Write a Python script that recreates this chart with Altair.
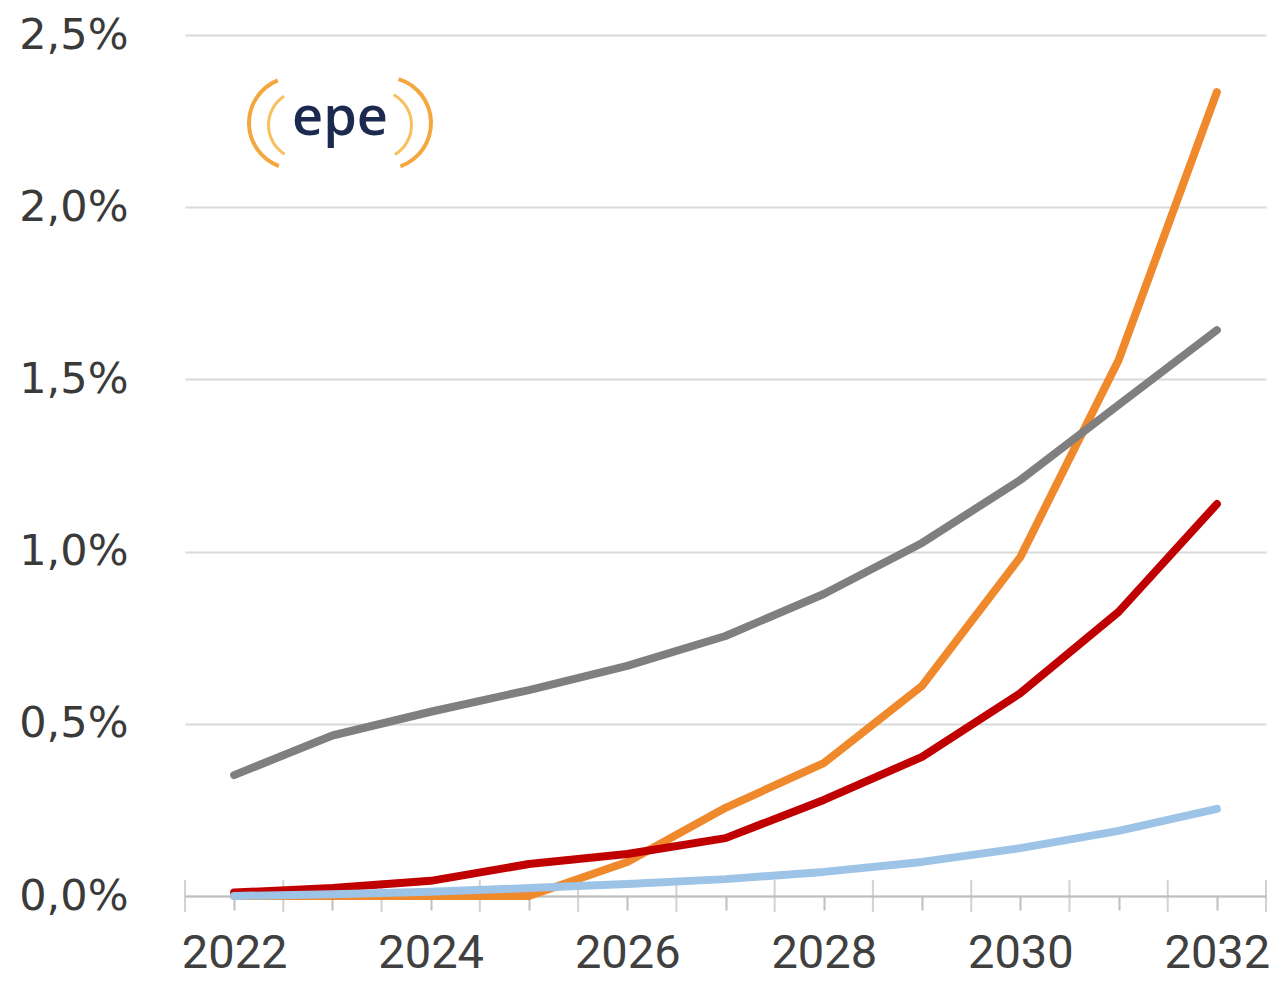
import altair as alt
import pandas as pd

years = [2022, 2023, 2024, 2025, 2026, 2027, 2028, 2029, 2030, 2031, 2032]
gray_vals = [0.351, 0.466, 0.535, 0.598, 0.668, 0.755, 0.877, 1.025, 1.208, 1.426, 1.643]
orange_vals = [0.0, 0.0, 0.0, 0.0, 0.099, 0.256, 0.386, 0.610, 0.984, 1.556, 2.334]
red_vals = [0.010, 0.023, 0.044, 0.093, 0.122, 0.168, 0.279, 0.404, 0.589, 0.825, 1.138]
blue_vals = [0.0, 0.005, 0.012, 0.023, 0.035, 0.049, 0.070, 0.099, 0.139, 0.189, 0.253]
series_names = ["orange", "red", "gray", "blue"]
series_colors = ["#f0882c", "#c00000", "#7f7f7f", "#9dc3e6"]
boundaries = [2021.5 + i for i in range(12)]
y_ticks = [0, 0.5, 1.0, 1.5, 2.0, 2.5]

rows = []
for name, vals in zip(series_names, [orange_vals, red_vals, gray_vals, blue_vals]):
    for yr, v in zip(years, vals):
        rows.append({"year": yr, "value": v, "series": name})
df = pd.DataFrame(rows)

xscale = alt.Scale(domain=[2021.5, 2032.5], nice=False, zero=False)
yscale = alt.Scale(domain=[0, 2.5], nice=False)

lines = alt.Chart(df).mark_line(strokeWidth=8, strokeCap="round", strokeJoin="round").encode(
    x=alt.X("year:Q", scale=xscale, title=None,
            axis=alt.Axis(values=years, tickSize=14, tickWidth=2, tickColor="#bfbfbf",
                          domainColor="#bfbfbf", domainWidth=2, grid=False,
                          labelExpr="datum.value % 2 == 0 ? format(datum.value, 'd') : ''",
                          labelFont="Roboto", labelFontSize=47, labelColor="#404040",
                          labelPadding=20, labelFlush=False, labelOverlap=False)),
    y=alt.Y("value:Q", scale=yscale, title=None,
            axis=alt.Axis(values=y_ticks, domain=False, ticks=False, grid=True,
                          gridColor="#d9d9d9", gridWidth=2,
                          labelExpr="replace(format(datum.value, '.1f'), '.', ',') + '%'",
                          labelFont="DejaVu Sans", labelFontSize=43, labelColor="#3a3a3a",
                          labelPadding=57)),
    color=alt.Color("series:N", scale=alt.Scale(domain=series_names, range=series_colors), legend=None),
    detail="series:N",
)

tall_ticks = alt.Chart(pd.DataFrame({"b": boundaries, "z": [0] * len(boundaries)})).mark_tick(
    orient="vertical", size=32, thickness=2, color="#bfbfbf"
).encode(x=alt.X("b:Q", scale=xscale), y=alt.Y("z:Q", scale=yscale))

one = pd.DataFrame({"a": [0]})
arc_left1 = alt.Chart(one).mark_arc(color="#f39c2a", opacity=0.9).encode(
    x=alt.value(110), y=alt.value(88), radius=alt.value(48), radius2=alt.value(44),
    theta=alt.value(3.5), theta2=alt.value(5.9))
arc_left2 = alt.Chart(one).mark_arc(color="#f7b84a", opacity=0.9).encode(
    x=alt.value(118), y=alt.value(90), radius=alt.value(36), radius2=alt.value(33),
    theta=alt.value(3.7), theta2=alt.value(5.7))
arc_right1 = alt.Chart(one).mark_arc(color="#f39c2a", opacity=0.9).encode(
    x=alt.value(200), y=alt.value(88), radius=alt.value(48), radius2=alt.value(44),
    theta=alt.value(0.3), theta2=alt.value(2.8))
arc_right2 = alt.Chart(one).mark_arc(color="#f7b84a", opacity=0.9).encode(
    x=alt.value(192), y=alt.value(90), radius=alt.value(36), radius2=alt.value(33),
    theta=alt.value(0.5), theta2=alt.value(2.6))
logo_text = alt.Chart(one).mark_text(text="epe", font="Open Sans", fontSize=54, fontWeight=600,
                                     color="#1b2a4e", baseline="middle", align="center").encode(
    x=alt.value(155), y=alt.value(84))

chart = alt.layer(arc_left1, arc_left2, arc_right1, arc_right2, logo_text, tall_ticks, lines).properties(
    width=1081, height=861,
    background="white",
    autosize=alt.AutoSizeParams(type="none"),
    padding={"left": 177, "top": 27, "right": 4, "bottom": 82},
).configure_view(strokeWidth=0, stroke="transparent")

chart.save("out.html", embed_options={"renderer": "svg", "actions": False})
